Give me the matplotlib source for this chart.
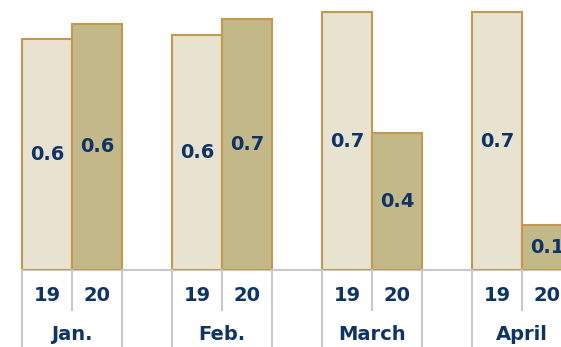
import matplotlib.pyplot as plt

months = ["Jan.", "Feb.", "March", "April"]
years = ["19", "20"]
vals_19 = [0.605, 0.616, 0.675, 0.675]
vals_20 = [0.645, 0.657, 0.360, 0.118]

c_19 = "#E8E2D0"
c_20 = "#C2B888"
c_edge = "#C4994F"
c_text = "#0E3466"
c_grid = "#C8C8C8"
font = dict(fontsize=14, fontweight="bold", family="DejaVu Sans", color=c_text)

fig = plt.figure(figsize=(5.61, 3.47), dpi=100)
ax = fig.add_axes([0, 77 / 347, 1, 270 / 347])

# each month takes 3 slots: two bars + a gap
x19 = [3 * i for i in range(len(months))]
x20 = [3 * i + 1 for i in range(len(months))]

b1 = ax.bar(x19, vals_19, width=1, align="edge", color=c_19, edgecolor=c_edge, linewidth=1.5, zorder=2)
b2 = ax.bar(x20, vals_20, width=1, align="edge", color=c_20, edgecolor=c_edge, linewidth=1.5, zorder=2)

for bars in (b1, b2):
    for b in bars:
        h = b.get_height()
        ax.text(b.get_x() + 0.5, h / 2, f"{h:.1f}", ha="center", va="center", zorder=3, **font)

ax.set_xlim(-0.44, 10.78)
ax.set_ylim(0, 0.707)
ax.axis("off")

tr = ax.get_xaxis_transform()
ax.plot([0, 12], [0, 0], transform=tr, color=c_grid, lw=1.5, clip_on=False, zorder=1)

for i, m in enumerate(months):
    left = 3 * i
    # long separators at group edges, short one between years
    for xx in (left, left + 2):
        ax.plot([xx, xx], [0, -0.29], transform=tr, color=c_grid, lw=1.5, clip_on=False)
    ax.plot([left + 1, left + 1], [0, -0.148], transform=tr, color=c_grid, lw=1.5, clip_on=False)
    for j, y in enumerate(years):
        ax.text(left + j + 0.5, -0.093, y, transform=tr, ha="center", va="center", **font)
    ax.text(left + 1, -0.238, m, transform=tr, ha="center", va="center", **font)

fig.savefig("out.png", dpi=100)
